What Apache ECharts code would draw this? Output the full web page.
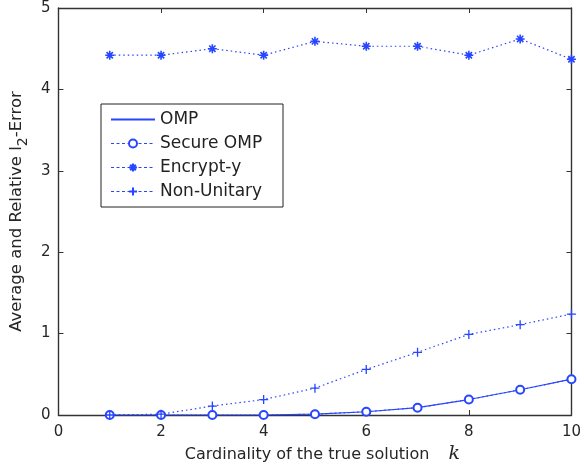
<!DOCTYPE html>
<html>
<head>
<meta charset="utf-8">
<script src="https://cdn.jsdelivr.net/npm/echarts@6/dist/echarts.min.js"></script>
<style>
html,body{margin:0;padding:0;background:#fff;}
#chart{width:584px;height:470px;}
</style>
</head>
<body>
<div id="chart"></div>
<script>
const kValues = [1, 2, 3, 4, 5, 6, 7, 8, 9, 10];
const ompValues = [0, 0, 0, 0, 0.01, 0.04, 0.09, 0.19, 0.31, 0.44];
const secureOmpValues = [0, 0, 0, 0, 0.01, 0.04, 0.09, 0.19, 0.31, 0.44];
const encryptYValues = [4.42, 4.42, 4.50, 4.42, 4.59, 4.53, 4.53, 4.42, 4.62, 4.37];
const nonUnitaryValues = [0, 0.01, 0.11, 0.19, 0.33, 0.56, 0.77, 0.99, 1.11, 1.24];
const seriesNames = ['OMP', 'Secure OMP', 'Encrypt-y', 'Non-Unitary'];
const xTicks = { min: 0, max: 10, interval: 2 };
const yTicks = { min: 0, max: 5, interval: 1 };

const BLUE = '#2846ff';
const AX = '#333333';
const FONT = 'DejaVu Sans';
const pairs = vals => kValues.map((k, i) => [k, vals[i]]);

const plusPath = 'path://M0,-1L0,1M-1,0L1,0';
const starPath = 'path://M0,-1L0,1M-1,0L1,0M-0.7,-0.7L0.7,0.7M-0.7,0.7L0.7,-0.7';

function xAx(pos, labels) {
  return {
    type: 'value', position: pos, min: xTicks.min, max: xTicks.max, interval: xTicks.interval,
    axisLine: { show: true, onZero: false, lineStyle: { color: AX, width: 1.4 } },
    axisTick: { show: true, inside: true, length: 5, lineStyle: { color: AX, width: 1 } },
    splitLine: { show: false },
    axisLabel: { show: labels, fontSize: 15, color: '#262626', fontFamily: FONT, margin: 10 }
  };
}
function yAx(pos, labels) {
  return {
    type: 'value', position: pos, min: yTicks.min, max: yTicks.max, interval: yTicks.interval,
    axisLine: { show: true, onZero: false, lineStyle: { color: AX, width: 1.4 } },
    axisTick: { show: true, inside: true, length: 5, lineStyle: { color: AX, width: 1 } },
    splitLine: { show: false },
    axisLabel: { show: labels, fontSize: 15, color: '#262626', fontFamily: FONT, margin: 8 }
  };
}

const xBottom = xAx('bottom', true);
xBottom.name = 'Cardinality of the true solution  {k|k}';
xBottom.nameLocation = 'middle';
xBottom.nameGap = 30;
xBottom.nameTextStyle = {
  fontSize: 16, color: '#262626', fontFamily: FONT, padding: [0, 0, 0, 15],
  rich: { k: { fontSize: 19, fontStyle: 'italic', fontFamily: 'DejaVu Serif', color: '#262626', padding: [0, 0, 0, 9] } }
};
const yLeft = yAx('left', true);
yLeft.name = 'Average and Relative l{sub|2}-Error';
yLeft.nameLocation = 'middle';
yLeft.nameGap = 19;
yLeft.nameTextStyle = {
  fontSize: 16.5, color: '#262626', fontFamily: FONT,
  rich: { sub: { fontSize: 14, color: '#262626', fontFamily: FONT, padding: [13, 0, 0, 0], verticalAlign: 'bottom' } }
};

const dashLegend = { type: [3, 2.5], width: 1.1 };
const chart = echarts.init(document.getElementById('chart'), null, { renderer: 'canvas' });
chart.setOption({
  animation: false,
  backgroundColor: '#fff',
  grid: { left: 57, right: 12, top: 8, bottom: 55, containLabel: false },
  xAxis: [xBottom, xAx('top', false)],
  yAxis: [yLeft, yAx('right', false)],
  legend: {
    orient: 'vertical', left: 101, top: 104,
    backgroundColor: '#fff', borderColor: '#222', borderWidth: 1,
    padding: [7, 11, 7, 9],
    itemWidth: 44, itemHeight: 10, itemGap: 7,
    textStyle: { fontSize: 17, lineHeight: 17, color: '#222', fontFamily: FONT, width: 112, overflow: 'none' },
    data: [
      { name: seriesNames[0], itemStyle: { opacity: 0 } },
      { name: seriesNames[1], lineStyle: dashLegend },
      { name: seriesNames[2], lineStyle: dashLegend },
      { name: seriesNames[3], lineStyle: dashLegend }
    ]
  },
  series: [
    {
      name: seriesNames[0], type: 'line', data: pairs(ompValues), showSymbol: false, symbol: 'circle',
      lineStyle: { color: BLUE, width: 1.2, type: 'solid' }, itemStyle: { color: BLUE }, z: 3
    },
    {
      name: seriesNames[1], type: 'line', data: pairs(secureOmpValues), symbol: 'emptyCircle', symbolSize: 8,
      lineStyle: { color: BLUE, width: 1.2, type: [1.5, 3] },
      itemStyle: { color: BLUE, borderColor: BLUE, borderWidth: 1.3 }, z: 4
    },
    {
      name: seriesNames[2], type: 'line', data: pairs(encryptYValues), symbol: starPath, symbolSize: 9,
      lineStyle: { color: BLUE, width: 1.2, type: [1.5, 3] },
      itemStyle: { color: 'none', borderColor: BLUE, borderWidth: 1.6 }, z: 4
    },
    {
      name: seriesNames[3], type: 'line', data: pairs(nonUnitaryValues), symbol: plusPath, symbolSize: 9,
      lineStyle: { color: BLUE, width: 1.2, type: [1.5, 3] },
      itemStyle: { color: 'none', borderColor: BLUE, borderWidth: 1.3 }, z: 4
    }
  ]
});
</script>
</body>
</html>
